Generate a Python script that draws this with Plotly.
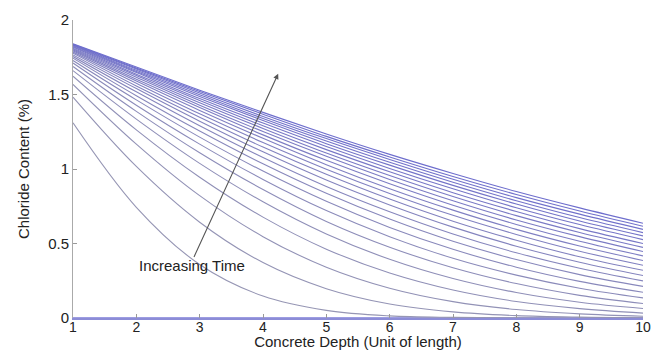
import plotly.graph_objects as go

depth = [1, 2, 3, 4, 5, 6, 7, 8, 9, 10]
x_ticks = [1, 2, 3, 4, 5, 6, 7, 8, 9, 10]
y_ticks = [0, 0.5, 1, 1.5, 2]
y_tick_labels = ["0", "0.5", "1", "1.5", "2"]

# chloride profiles, one per time step (earliest first)
c00 = [0, 0, 0, 0, 0, 0, 0, 0, 0, 0]
c01 = [1.310, 0.743, 0.359, 0.147, 0.051, 0.014, 0.004, 0.001, 0.0, 0.0]
c02 = [1.482, 1.017, 0.643, 0.372, 0.197, 0.094, 0.041, 0.016, 0.006, 0.002]
c03 = [1.568, 1.167, 0.821, 0.546, 0.341, 0.200, 0.110, 0.057, 0.028, 0.012]
c04 = [1.623, 1.263, 0.945, 0.677, 0.462, 0.302, 0.188, 0.111, 0.063, 0.033]
c05 = [1.660, 1.335, 1.038, 0.780, 0.564, 0.394, 0.265, 0.171, 0.106, 0.064]
c06 = [1.688, 1.387, 1.109, 0.862, 0.648, 0.475, 0.337, 0.231, 0.152, 0.097]
c07 = [1.711, 1.428, 1.167, 0.930, 0.721, 0.546, 0.401, 0.288, 0.200, 0.135]
c08 = [1.728, 1.464, 1.214, 0.986, 0.783, 0.608, 0.461, 0.341, 0.246, 0.173]
c09 = [1.744, 1.492, 1.255, 1.035, 0.837, 0.664, 0.515, 0.392, 0.291, 0.212]
c10 = [1.755, 1.518, 1.290, 1.077, 0.883, 0.713, 0.564, 0.438, 0.334, 0.249]
c11 = [1.766, 1.540, 1.321, 1.115, 0.926, 0.759, 0.610, 0.482, 0.374, 0.285]
c12 = [1.777, 1.557, 1.347, 1.147, 0.964, 0.798, 0.650, 0.522, 0.411, 0.320]
c13 = [1.785, 1.575, 1.370, 1.178, 0.999, 0.836, 0.689, 0.561, 0.448, 0.354]
c14 = [1.793, 1.590, 1.393, 1.206, 1.029, 0.868, 0.724, 0.595, 0.483, 0.386]
c15 = [1.800, 1.603, 1.412, 1.229, 1.058, 0.901, 0.757, 0.628, 0.515, 0.417]
c16 = [1.806, 1.616, 1.428, 1.251, 1.085, 0.930, 0.787, 0.658, 0.546, 0.446]
c17 = [1.811, 1.627, 1.445, 1.272, 1.107, 0.956, 0.815, 0.687, 0.574, 0.474]
c18 = [1.818, 1.636, 1.460, 1.290, 1.130, 0.981, 0.841, 0.715, 0.600, 0.500]
c19 = [1.822, 1.647, 1.473, 1.308, 1.151, 1.004, 0.867, 0.740, 0.627, 0.526]
c20 = [1.827, 1.655, 1.486, 1.325, 1.170, 1.026, 0.890, 0.765, 0.651, 0.551]
c21 = [1.831, 1.662, 1.499, 1.339, 1.188, 1.045, 0.911, 0.787, 0.674, 0.573]
c22 = [1.833, 1.671, 1.510, 1.353, 1.204, 1.064, 0.931, 0.808, 0.697, 0.595]
c23 = [1.838, 1.677, 1.520, 1.368, 1.219, 1.081, 0.950, 0.829, 0.718, 0.616]
c24 = [1.840, 1.684, 1.529, 1.380, 1.235, 1.098, 0.970, 0.849, 0.739, 0.636]

profiles = [c00, c01, c02, c03, c04, c05, c06, c07, c08, c09, c10, c11, c12,
            c13, c14, c15, c16, c17, c18, c19, c20, c21, c22, c23, c24]

# arrow and label
arrow_start = (2.9, 0.40)
arrow_end = (4.24, 1.64)
label_text = "Increasing Time"
label_pos = (2.88, 0.355)

FONT = "Liberation Sans, Arial, Helvetica, sans-serif"

fig = go.Figure()
n = len(profiles)
for i, prof in enumerate(profiles):
    if i == 0:
        col = "rgb(125,125,215)"
        w = 1.6
    else:
        f = (i - 1) / (n - 2)
        r = int(150 + (110 - 150) * f)
        g = int(150 + (110 - 150) * f)
        b = int(180 + (205 - 180) * f)
        col = f"rgb({r},{g},{b})"
        w = 1.1
    fig.add_trace(go.Scatter(
        x=depth, y=prof, mode="lines",
        line=dict(color=col, width=w, shape="spline", smoothing=1.0),
        showlegend=False, hoverinfo="skip", cliponaxis=False,
    ))

fig.add_annotation(
    x=arrow_end[0], y=arrow_end[1], ax=arrow_start[0], ay=arrow_start[1],
    xref="x", yref="y", axref="x", ayref="y",
    showarrow=True, arrowhead=2, arrowsize=1.0, arrowwidth=1.1,
    arrowcolor="#555555", text="",
)
fig.add_annotation(
    x=label_pos[0], y=label_pos[1], xref="x", yref="y",
    text=label_text, showarrow=False,
    font=dict(family=FONT, size=15, color="#222222"),
)

# the page body adds an 8px offset; the figure is sized to fit the window
fig.update_layout(
    width=654, height=342,
    margin=dict(l=65, r=19, t=12, b=32),
    paper_bgcolor="white", plot_bgcolor="white",
    font=dict(family=FONT, size=15, color="#222222"),
    showlegend=False,
)
fig.update_xaxes(
    range=[1, 10], tickvals=x_ticks, ticks="inside", ticklen=4,
    tickcolor="#999999", showline=True, linecolor="rgb(140,140,215)",
    linewidth=1.5, showgrid=False, zeroline=False,
    ticklabelstandoff=-5,
    title=dict(text="Concrete Depth (Unit of length)", standoff=2,
               font=dict(family=FONT, size=15)),
    tickfont=dict(family=FONT, size=14), automargin=False,
)
fig.update_yaxes(
    range=[0, 2], tickvals=y_ticks, ticktext=y_tick_labels,
    ticks="inside", ticklen=4, tickcolor="#999999", showline=True,
    linecolor="#aaaaaa", linewidth=1, showgrid=False, zeroline=False,
    ticklabelstandoff=0,
    title=dict(text="Chloride Content (%)", standoff=14,
               font=dict(family=FONT, size=15)),
    tickfont=dict(family=FONT, size=15), automargin=False,
)

fig.write_html("out.html")
